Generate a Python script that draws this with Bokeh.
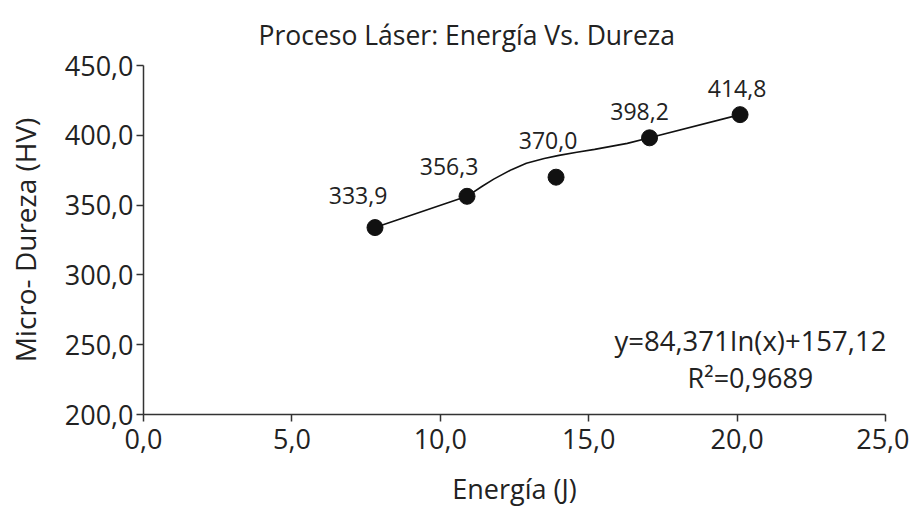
from bokeh.plotting import figure
from bokeh.models import ColumnDataSource, FixedTicker
from bokeh.models import Label
from bokeh.embed import file_html
from bokeh.resources import INLINE
from bokeh.core.properties import value

# ---- data ----
energia = [7.8, 10.9, 13.9, 17.05, 20.1]
dureza = [333.9, 356.3, 370.0, 398.2, 414.8]
etiquetas = ["333,9", "356,3", "370,0", "398,2", "414,8"]

# smooth trend curve as drawn in the reference
curva_x = [7.8, 10.9, 11.4, 11.8, 12.4, 12.9, 13.5, 14.0, 14.6, 15.2, 16.3, 17.05, 20.1]
curva_y = [333.9, 356.3, 363.3, 368.6, 375.4, 380.0, 383.4, 385.6, 387.8, 389.9, 394.2, 398.2, 414.8]

x_ticks = [0, 5, 10, 15, 20, 25]
x_tick_labels = ["0,0", "5,0", "10,0", "15,0", "20,0", "25,0"]
y_ticks = [200, 250, 300, 350, 400, 450]
y_tick_labels = ["200,0", "250,0", "300,0", "350,0", "400,0", "450,0"]

titulo = "Proceso Láser: Energía Vs. Dureza"
eje_x = "Energía (J)"
eje_y = "Micro- Dureza (HV)"
ecuacion = "y=84,371In(x)+157,12"
r2 = "R²=0,9689"

# ---- styles ----
FONT = "Open Sans"
TXT = "#222222"
label_dx = [-17, -18, -8, -10, -3]
label_dy = [-32, -30, -37, -26, -26]

p = figure(width=909, height=510, x_range=(0, 25), y_range=(200, 450),
           output_backend="svg", toolbar_location=None,
           min_border_left=143, min_border_right=24,
           min_border_top=65, min_border_bottom=96)
p.outline_line_color = None
p.grid.visible = False
p.background_fill_color = "white"
p.border_fill_color = "white"

p.title.text = titulo
p.title.align = "left"
p.title.offset = 115
p.title.standoff = 25
p.title.text_font = FONT
p.title.text_font_size = "26.5px"
p.title.text_font_style = "normal"
p.title.text_color = TXT

for ax in (p.xaxis[0], p.yaxis[0]):
    ax.axis_line_color = "#333333"
    ax.axis_line_width = 1.5
    ax.major_tick_line_color = "#333333"
    ax.major_tick_line_width = 1.5
    ax.major_tick_out = 7
    ax.major_tick_in = 0
    ax.minor_tick_line_color = None
    ax.major_label_text_font = FONT
    ax.major_label_text_font_size = "27px"
    ax.major_label_text_color = TXT
    ax.axis_label_text_font = FONT
    ax.axis_label_text_font_size = "27px"
    ax.axis_label_text_font_style = "normal"
    ax.axis_label_text_color = TXT

p.yaxis.axis_label_text_font_size = "28px"
p.xaxis.ticker = FixedTicker(ticks=x_ticks)
p.yaxis.ticker = FixedTicker(ticks=y_ticks)
p.xaxis.major_label_overrides = dict(zip(x_ticks, x_tick_labels))
p.yaxis.major_label_overrides = dict(zip(y_ticks, y_tick_labels))
p.xaxis.major_label_standoff = 7
p.yaxis.major_label_standoff = 3
p.xaxis.axis_label = eje_x
p.yaxis.axis_label = eje_y
p.xaxis.axis_label_standoff = 18
p.yaxis.axis_label_standoff = 18

p.line(curva_x, curva_y, line_color="#111111", line_width=1.6)

src = ColumnDataSource(dict(x=energia, y=dureza, t=etiquetas,
                            dx=label_dx, dy=label_dy))
p.scatter("x", "y", source=src, size=16, fill_color="#111111",
          line_color="#111111")
p.text("x", "y", text="t", source=src, x_offset="dx", y_offset="dy",
       text_font=value(FONT), text_font_size="23px", text_color=TXT,
       text_align="center", text_baseline="middle")

p.add_layout(Label(x=20.45, y=253.2, text=ecuacion, text_font=FONT,
                   text_font_size="27.5px", text_color=TXT,
                   text_align="center", text_baseline="middle"))
p.add_layout(Label(x=20.45, y=226.5, text=r2, text_font=FONT,
                   text_font_size="27px", text_color=TXT,
                   text_align="center", text_baseline="middle"))

open("out.html", "w").write(file_html(p, INLINE))
